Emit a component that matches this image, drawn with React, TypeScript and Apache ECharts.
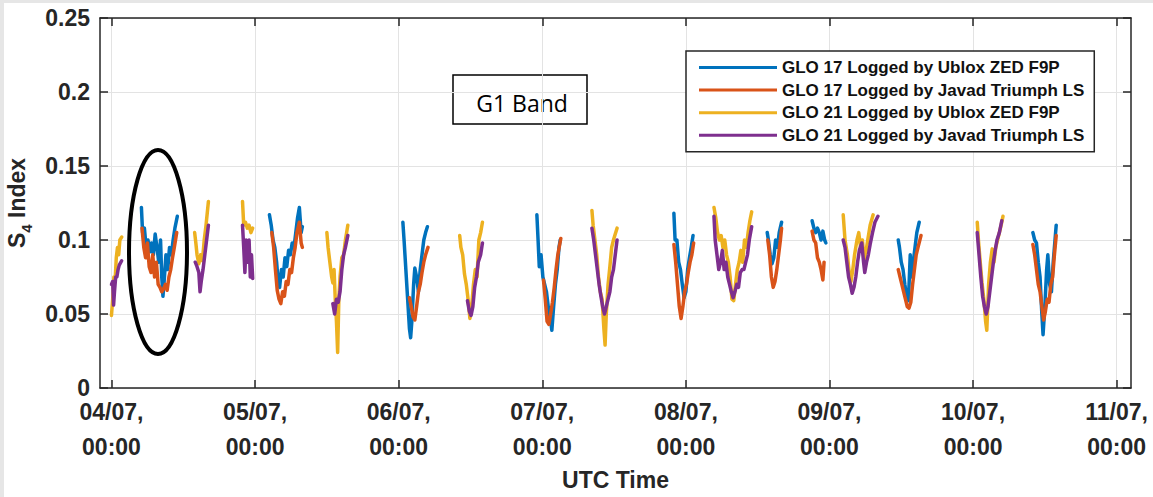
import React, { useEffect, useRef } from "react";
import * as echarts from "echarts";

// x = hours since 04/07 00:00 UTC, y = S4 index
const dayTicks = [0, 24, 48, 72, 96, 120, 144, 168];
const seriesNames = [
  "GLO 17 Logged by Ublox ZED F9P",
  "GLO 17 Logged by Javad Triumph LS",
  "GLO 21 Logged by Ublox ZED F9P",
  "GLO 21 Logged by Javad Triumph LS",
];
const seriesColors = ["#0072BD", "#D95319", "#EDB120", "#7E2F8E"];

const glo17Ublox: number[][][] = [
  [[5.0,0.122],[5.2,0.105],[5.5,0.108],[5.8,0.095],[6.1,0.1],[6.4,0.092],[6.7,0.098],[7.0,0.09],[7.3,0.104],[7.6,0.095],[7.9,0.085],[8.2,0.1],[8.4,0.075],[8.6,0.062],[8.8,0.072],[9.1,0.09],[9.4,0.08],[9.7,0.095],[10.0,0.09],[10.3,0.1],[10.6,0.108],[11.0,0.116]],
  [[26.4,0.117],[26.7,0.11],[27.0,0.1],[27.3,0.095],[27.6,0.085],[27.9,0.07],[28.1,0.068],[28.4,0.08],[28.7,0.075],[29.0,0.088],[29.3,0.082],[29.6,0.093],[29.9,0.09],[30.2,0.098],[30.5,0.095],[30.8,0.105],[31.1,0.115],[31.4,0.122],[31.7,0.105],[31.9,0.109]],
  [[48.7,0.112],[48.9,0.1],[49.2,0.08],[49.5,0.06],[49.8,0.04],[50.0,0.034],[50.2,0.045],[50.5,0.07],[50.7,0.081],[51.0,0.075],[51.3,0.065],[51.6,0.08],[51.9,0.09],[52.2,0.1],[52.5,0.105],[52.8,0.109]],
  [[71.1,0.117],[71.3,0.1],[71.5,0.082],[71.8,0.09],[72.1,0.075],[72.4,0.07],[72.7,0.065],[73.0,0.055],[73.3,0.048],[73.6,0.039],[73.9,0.055],[74.2,0.07],[74.5,0.08],[74.8,0.095],[75.0,0.1]],
  [[94.0,0.118],[94.2,0.1],[94.5,0.1],[94.8,0.085],[95.1,0.08],[95.4,0.07],[95.7,0.061],[96.0,0.065],[96.3,0.08],[96.6,0.088],[96.9,0.095],[97.2,0.103]],
  [[109.6,0.105],[109.8,0.1],[110.1,0.09],[110.4,0.084],[110.7,0.088],[111.0,0.1],[111.3,0.095],[111.6,0.105],[112.0,0.112]],
  [[117.1,0.113],[117.4,0.108],[117.7,0.105],[118.0,0.108],[118.3,0.105],[118.6,0.1],[118.9,0.106],[119.2,0.1],[119.4,0.098]],
  [[131.5,0.1],[131.7,0.095],[132.0,0.085],[132.3,0.08],[132.6,0.07],[132.9,0.062],[133.2,0.059],[133.5,0.09],[133.7,0.075],[134.0,0.085],[134.3,0.095],[134.6,0.105],[135.0,0.112]],
  [[154.0,0.105],[154.3,0.1],[154.6,0.098],[154.9,0.085],[155.2,0.075],[155.5,0.05],[155.7,0.036],[156.0,0.055],[156.3,0.08],[156.5,0.09],[156.8,0.07],[157.1,0.065],[157.4,0.085],[157.7,0.1],[157.9,0.11]],
];

const glo17Javad: number[][][] = [
  [[5.1,0.108],[5.4,0.095],[5.7,0.088],[6.0,0.098],[6.3,0.082],[6.6,0.078],[6.9,0.09],[7.2,0.075],[7.5,0.085],[7.8,0.07],[8.1,0.068],[8.4,0.065],[8.7,0.067],[9.0,0.07],[9.3,0.066],[9.6,0.075],[9.9,0.08],[10.2,0.088],[10.5,0.095],[10.9,0.105]],
  [[26.8,0.105],[27.1,0.095],[27.4,0.08],[27.7,0.066],[28.0,0.06],[28.3,0.057],[28.6,0.065],[28.9,0.062],[29.2,0.072],[29.5,0.07],[29.8,0.08],[30.1,0.078],[30.4,0.088],[30.7,0.095],[31.0,0.105],[31.4,0.112],[31.7,0.098],[31.9,0.095]],
  [[49.8,0.061],[50.1,0.055],[50.4,0.048],[50.7,0.046],[51.0,0.055],[51.3,0.065],[51.6,0.07],[51.9,0.078],[52.2,0.085],[52.5,0.09],[52.9,0.095]],
  [[72.2,0.073],[72.5,0.06],[72.8,0.045],[73.1,0.043],[73.4,0.05],[73.7,0.058],[74.0,0.068],[74.3,0.08],[74.6,0.09],[75.1,0.101]],
  [[94.0,0.097],[94.3,0.085],[94.6,0.07],[94.9,0.055],[95.2,0.047],[95.5,0.055],[95.8,0.065],[96.1,0.07],[96.4,0.078],[96.7,0.085],[97.0,0.09],[97.3,0.098]],
  [[109.7,0.1],[110.0,0.09],[110.3,0.075],[110.6,0.068],[110.9,0.072],[111.2,0.08],[111.5,0.09],[111.8,0.1],[112.0,0.108]],
  [[117.1,0.106],[117.4,0.1],[117.7,0.098],[118.0,0.088],[118.3,0.085],[118.6,0.08],[118.9,0.073],[119.1,0.085]],
  [[131.5,0.08],[131.8,0.075],[132.1,0.07],[132.4,0.065],[132.7,0.06],[133.0,0.055],[133.3,0.054],[133.6,0.058],[133.9,0.07],[134.2,0.08],[134.5,0.09],[134.8,0.095],[135.3,0.103]],
  [[154.0,0.097],[154.3,0.09],[154.6,0.08],[154.9,0.07],[155.2,0.065],[155.5,0.055],[155.8,0.046],[156.1,0.052],[156.4,0.06],[156.7,0.058],[157.0,0.07],[157.3,0.075],[157.6,0.09],[157.9,0.103]],
];

const glo21Ublox: number[][][] = [
  [[0.0,0.049],[0.2,0.06],[0.4,0.075],[0.6,0.072],[0.8,0.088],[1.0,0.095],[1.2,0.09],[1.4,0.1],[1.7,0.102]],
  [[13.9,0.105],[14.1,0.098],[14.3,0.09],[14.6,0.084],[14.9,0.09],[15.2,0.086],[15.5,0.1],[15.8,0.11],[16.2,0.126]],
  [[21.9,0.126],[22.1,0.11],[22.4,0.112],[22.7,0.108],[23.0,0.11],[23.3,0.105],[23.6,0.108]],
  [[36.0,0.105],[36.2,0.095],[36.5,0.085],[36.8,0.075],[37.0,0.071],[37.2,0.08],[37.4,0.06],[37.6,0.045],[37.8,0.024],[38.0,0.06],[38.2,0.075],[38.5,0.088],[38.8,0.09],[39.1,0.1],[39.5,0.11]],
  [[58.2,0.103],[58.4,0.095],[58.7,0.09],[59.0,0.077],[59.3,0.07],[59.6,0.06],[59.9,0.047],[60.2,0.055],[60.5,0.07],[60.8,0.08],[61.1,0.075],[61.4,0.1],[61.7,0.105],[62.0,0.112]],
  [[80.3,0.12],[80.5,0.11],[80.8,0.1],[81.1,0.09],[81.4,0.075],[81.7,0.065],[82.0,0.06],[82.3,0.04],[82.5,0.029],[82.7,0.05],[83.0,0.07],[83.3,0.082],[83.6,0.095],[83.9,0.1],[84.2,0.104],[84.5,0.108]],
  [[100.7,0.122],[101.0,0.115],[101.3,0.105],[101.6,0.1],[101.9,0.103],[102.2,0.095],[102.5,0.1],[102.8,0.09],[103.1,0.085],[103.4,0.075],[103.7,0.06],[104.0,0.059],[104.3,0.07],[104.6,0.08],[104.9,0.085],[105.2,0.093],[105.5,0.085],[105.8,0.1],[106.1,0.095],[106.4,0.105],[106.7,0.113],[107.0,0.119]],
  [[122.3,0.117],[122.6,0.1],[123.0,0.09],[123.3,0.078],[123.6,0.072],[123.9,0.08],[124.2,0.09],[124.6,0.1],[124.9,0.105],[125.2,0.095],[125.5,0.1],[125.8,0.087],[126.1,0.092],[126.4,0.1],[126.8,0.11],[127.3,0.117]],
  [[144.7,0.112],[144.9,0.1],[145.2,0.085],[145.5,0.071],[145.8,0.06],[146.1,0.045],[146.3,0.039],[146.6,0.07],[146.9,0.085],[147.2,0.094],[147.5,0.085],[147.8,0.095],[148.1,0.1],[148.4,0.105],[148.7,0.11],[149.0,0.116]],
];

const glo21Javad: number[][][] = [
  [[0.0,0.07],[0.2,0.072],[0.35,0.056],[0.5,0.065],[0.7,0.075],[0.9,0.075],[1.1,0.08],[1.3,0.083],[1.7,0.086]],
  [[14.0,0.085],[14.3,0.082],[14.6,0.078],[14.8,0.065],[15.0,0.072],[15.3,0.08],[15.6,0.09],[15.9,0.1],[16.2,0.11]],
  [[21.9,0.11],[22.1,0.095],[22.3,0.078],[22.5,0.1],[22.8,0.085],[23.0,0.1],[23.2,0.075],[23.4,0.09],[23.6,0.074]],
  [[37.0,0.057],[37.3,0.05],[37.6,0.06],[37.9,0.058],[38.2,0.065],[38.5,0.08],[38.8,0.09],[39.1,0.095],[39.5,0.103]],
  [[59.5,0.059],[59.8,0.052],[60.1,0.049],[60.4,0.055],[60.7,0.068],[61.0,0.075],[61.3,0.085],[61.7,0.09],[62.0,0.098]],
  [[80.3,0.108],[80.6,0.1],[80.9,0.09],[81.2,0.08],[81.5,0.07],[81.8,0.062],[82.1,0.055],[82.4,0.05],[82.7,0.055],[83.0,0.06],[83.3,0.065],[83.6,0.075],[83.9,0.08],[84.2,0.09],[84.5,0.1]],
  [[100.7,0.116],[100.9,0.1],[101.2,0.09],[101.5,0.08],[101.8,0.085],[102.1,0.093],[102.4,0.08],[102.7,0.085],[103.0,0.075],[103.3,0.07],[103.6,0.065],[103.9,0.061],[104.2,0.065],[104.5,0.07],[104.8,0.068],[105.1,0.078],[105.4,0.08],[105.7,0.08],[106.0,0.085],[106.3,0.09],[106.6,0.1],[107.0,0.109]],
  [[122.3,0.1],[122.6,0.095],[122.9,0.085],[123.2,0.075],[123.5,0.07],[123.8,0.064],[124.1,0.068],[124.4,0.075],[124.7,0.085],[125.0,0.093],[125.4,0.098],[125.7,0.085],[125.9,0.078],[126.2,0.085],[126.5,0.09],[126.8,0.097],[127.2,0.105],[127.6,0.112],[128.1,0.116]],
  [[144.7,0.105],[145.0,0.09],[145.3,0.075],[145.6,0.062],[145.9,0.055],[146.2,0.05],[146.5,0.055],[146.8,0.065],[147.1,0.075],[147.4,0.085],[147.7,0.093],[148.0,0.1],[148.4,0.105],[148.8,0.113]],
];

const allSeries = [glo17Ublox, glo17Javad, glo21Ublox, glo21Javad];

const AXIS_COLOR = "#262626";
const FONT = "'Liberation Sans', Arial, sans-serif";

function dayLabel(v: number) {
  const d = 4 + Math.round(v / 24);
  return `{a|${String(d).padStart(2, "0")}/07,}\n{b|00:00}`;
}

export default function App() {
  const ref = useRef<HTMLDivElement>(null);
  useEffect(() => {
    if (!ref.current) return;
    const chart = echarts.init(ref.current, undefined, { renderer: "svg" });
    const series: any[] = [];
    allSeries.forEach((passes, si) => {
      passes.forEach((pass) => {
        series.push({
          type: "line",
          name: seriesNames[si],
          data: pass,
          showSymbol: false,
          symbol: "none",
          color: seriesColors[si],
          lineStyle: { width: 3.5, color: seriesColors[si], join: "round", cap: "round" },
          xAxisIndex: 0,
          yAxisIndex: 0,
        });
      });
    });
    const labelFont = { fontFamily: FONT, fontWeight: "bold", fontSize: 23, color: AXIS_COLOR };
    chart.setOption({
      animation: false,
      backgroundColor: "#ffffff",
      grid: { left: 100, right: 22, top: 18, bottom: 109, containLabel: false, outerBoundsMode: "none" },
      xAxis: [
        {
          type: "value",
          min: -1.92,
          max: 170.4,
          position: "bottom",
          name: "UTC Time",
          nameLocation: "middle",
          nameGap: 80,
          nameTextStyle: { fontFamily: FONT, fontWeight: "bold", fontSize: 23, color: AXIS_COLOR },
          axisLine: { show: true, onZero: false, lineStyle: { color: AXIS_COLOR, width: 1.5 } },
          axisTick: { show: true, inside: true, length: 8, customValues: dayTicks, lineStyle: { color: AXIS_COLOR, width: 1.5 } },
          axisLabel: {
            show: true,
            customValues: dayTicks,
            formatter: dayLabel,
            margin: 14,
            rich: {
              a: { ...labelFont, lineHeight: 20 },
              b: { ...labelFont, lineHeight: 50 },
            },
          },
          splitLine: { show: true, lineStyle: { color: "#e3e3e3", width: 1 } },
        },
        {
          type: "value",
          min: -1.92,
          max: 170.4,
          position: "top",
          axisLine: { show: true, onZero: false, lineStyle: { color: AXIS_COLOR, width: 1.5 } },
          axisTick: { show: true, inside: true, length: 8, customValues: dayTicks, lineStyle: { color: AXIS_COLOR, width: 1.5 } },
          axisLabel: { show: false },
          splitLine: { show: false },
        },
      ],
      yAxis: [
        {
          type: "value",
          min: 0,
          max: 0.25,
          interval: 0.05,
          position: "left",
          name: "{s|S}{sub|4}{s| Index}",
          nameLocation: "middle",
          nameGap: 57,
          nameRotate: 90,
          nameTextStyle: {
            rich: {
              s: { fontFamily: FONT, fontWeight: "bold", fontSize: 23, color: AXIS_COLOR, verticalAlign: "bottom" },
              sub: { fontFamily: FONT, fontWeight: "bold", fontSize: 15, color: AXIS_COLOR, verticalAlign: "bottom", padding: [0, 0, -6, 0] },
            },
          },
          axisLine: { show: true, onZero: false, lineStyle: { color: AXIS_COLOR, width: 1.5 } },
          axisTick: { show: true, inside: true, length: 8, lineStyle: { color: AXIS_COLOR, width: 1.5 } },
          axisLabel: {
            ...labelFont,
            margin: 10,
            formatter: (v: number) => String(Math.round(v * 100) / 100),
          },
          splitLine: { show: true, lineStyle: { color: "#e3e3e3", width: 1 } },
        },
        {
          type: "value",
          min: 0,
          max: 0.25,
          interval: 0.05,
          position: "right",
          axisLine: { show: true, onZero: false, lineStyle: { color: AXIS_COLOR, width: 1.5 } },
          axisTick: { show: true, inside: true, length: 8, lineStyle: { color: AXIS_COLOR, width: 1.5 } },
          axisLabel: { show: false },
          splitLine: { show: false },
        },
      ],
      legend: {
        data: seriesNames,
        orient: "vertical",
        left: 686,
        top: 51,
        padding: [8, 10, 8, 13],
        itemWidth: 78,
        itemHeight: 3,
        itemGap: 5.6,
        icon: "rect",
        backgroundColor: "#ffffff",
        borderColor: AXIS_COLOR,
        borderWidth: 1.5,
        borderRadius: 0,
        textStyle: { fontFamily: FONT, fontWeight: "bold", fontSize: 17, lineHeight: 17, color: "#111" },
      },
      graphic: [
        { type: "rect", left: 0, top: 0, shape: { width: 1153, height: 3 }, style: { fill: "#e6e6e6" }, silent: true },
        { type: "rect", left: 0, top: 0, shape: { width: 4, height: 497 }, style: { fill: "#e6e6e6" }, silent: true },
        {
          type: "ellipse",
          shape: { cx: 158, cy: 252, rx: 29, ry: 102 },
          style: { fill: "none", stroke: "#000", lineWidth: 4 },
          z: 100,
          silent: true,
        },
        {
          type: "group",
          z: 100,
          children: [
            { type: "rect", shape: { x: 453, y: 75, width: 134, height: 49 }, style: { fill: "#fff", stroke: "#000", lineWidth: 1.5 } },
            {
              type: "text",
              x: 522,
              y: 103,
              style: { text: "G1 Band", fontFamily: "'Open Sans', sans-serif", fontSize: 23, fill: "#000", align: "center", verticalAlign: "middle" },
            },
          ],
        },
      ],
      series,
    });
    return () => chart.dispose();
  }, []);
  return <div ref={ref} style={{ position: "absolute", left: 0, top: 0, width: 1153, height: 497 }} />;
}
